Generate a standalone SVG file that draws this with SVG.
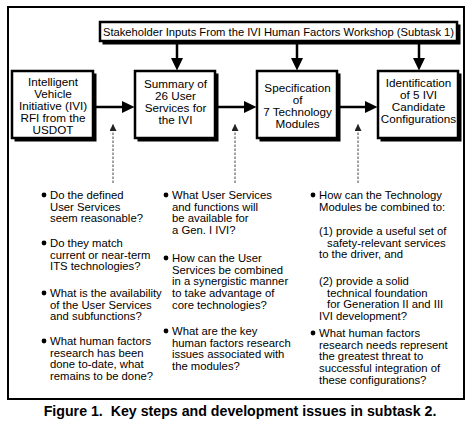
<svg xmlns="http://www.w3.org/2000/svg" width="470" height="425" viewBox="0 0 470 425">
<style>
text{font-family:"Liberation Sans",Arial,sans-serif;fill:#000}
.bx{font-size:11.7px;text-anchor:middle}
.q{font-size:11.3px}
.st{font-size:11.2px;text-anchor:middle}
.cap{font-size:14.2px;font-weight:bold;text-anchor:middle}
.box{fill:#fff;stroke:#000;stroke-width:2.5}
.sh{fill:#000}
.ln{stroke:#000;stroke-width:2.5;fill:none}
.dash{stroke:#444;stroke-width:1;stroke-dasharray:2.5 1.5;fill:none}
</style>
<defs>
<marker id="ahs" markerWidth="8" markerHeight="8" refX="7" refY="3.5" orient="auto" markerUnits="userSpaceOnUse"><path d="M0,0 L7,3.5 L0,7 Z" fill="#222"/></marker>
</defs>
<rect x="8" y="7" width="456" height="392" fill="#fff" stroke="#000" stroke-width="2"/>

<g id="stakeholder">
<rect class="sh" x="102.5" y="24.5" width="358" height="20"/>
<rect class="box" x="100" y="22" width="357" height="19"/>
<text class="st" x="278.5" y="35.5">Stakeholder Inputs From the IVI Human Factors Workshop (Subtask 1)</text>
</g>

<g id="rfi">
<rect class="sh" x="14.5" y="73.5" width="82" height="68"/>
<rect class="box" x="12" y="71" width="81" height="67"/>
<text class="bx" x="53" y="86">Intelligent</text>
<text class="bx" x="53" y="98">Vehicle</text>
<text class="bx" x="53" y="110">Initiative (IVI)</text>
<text class="bx" x="53" y="122">RFI from the</text>
<text class="bx" x="53" y="134">USDOT</text>
</g>

<g id="summary">
<rect class="sh" x="137.5" y="73.5" width="81" height="68"/>
<rect class="box" x="135" y="71" width="80" height="67"/>
<text class="bx" x="175.5" y="88">Summary of</text>
<text class="bx" x="175.5" y="100">26 User</text>
<text class="bx" x="175.5" y="112">Services for</text>
<text class="bx" x="175.5" y="124">the IVI</text>
</g>

<g id="specification">
<rect class="sh" x="259.5" y="73.5" width="81" height="68"/>
<rect class="box" x="257" y="71" width="80" height="67"/>
<text class="bx" x="297.5" y="92">Specification</text>
<text class="bx" x="297.5" y="104">of</text>
<text class="bx" x="297.5" y="116">7 Technology</text>
<text class="bx" x="297.5" y="128">Modules</text>
</g>

<g id="identification">
<rect class="sh" x="380.5" y="73.5" width="81" height="68"/>
<rect class="box" x="378" y="71" width="80" height="67"/>
<text class="bx" x="418.5" y="87">Identification</text>
<text class="bx" x="418.5" y="99">of 5 IVI</text>
<text class="bx" x="418.5" y="111">Candidate</text>
<text class="bx" x="418.5" y="123">Configurations</text>
</g>

<g id="connectors">
<line class="ln" x1="177" y1="43" x2="177" y2="60" />
<path d="M171,58 L183,58 L177,70.5 Z"/>
<line class="ln" x1="297" y1="43" x2="297" y2="60" />
<path d="M291,58 L303,58 L297,70.5 Z"/>
<line class="ln" x1="419" y1="43" x2="419" y2="60" />
<path d="M413,58 L425,58 L419,70.5 Z"/>
<line class="ln" x1="96" y1="107" x2="124" y2="107" />
<path d="M122,101 L122,113 L134.5,107 Z"/>
<line class="ln" x1="218" y1="107" x2="246" y2="107" />
<path d="M244,101 L244,113 L256.5,107 Z"/>
<line class="ln" x1="340" y1="107" x2="367" y2="107" />
<path d="M365,101 L365,113 L377.5,107 Z"/>
<line class="dash" x1="113" y1="183" x2="113" y2="124" marker-end="url(#ahs)"/>
<line class="dash" x1="235" y1="183" x2="235" y2="124" marker-end="url(#ahs)"/>
<line class="dash" x1="358" y1="183" x2="358" y2="124" marker-end="url(#ahs)"/>
</g>

<g id="issues-rfi">
<circle cx="44" cy="195" r="2.4"/>
<text class="q" x="50" y="199">Do the defined</text>
<text class="q" x="50" y="210.7">User Services</text>
<text class="q" x="50" y="222.4">seem reasonable?</text>
<circle cx="44" cy="243" r="2.4"/>
<text class="q" x="50" y="247">Do they match</text>
<text class="q" x="50" y="258.7">current or near-term</text>
<text class="q" x="50" y="270.4">ITS technologies?</text>
<circle cx="44" cy="293" r="2.4"/>
<text class="q" x="50" y="297">What is the availability</text>
<text class="q" x="50" y="308.7">of the User Services</text>
<text class="q" x="50" y="320.4">and subfunctions?</text>
<circle cx="44" cy="341" r="2.4"/>
<text class="q" x="50" y="345">What human factors</text>
<text class="q" x="50" y="356.7">research has been</text>
<text class="q" x="50" y="368.4">done to-date, what</text>
<text class="q" x="50" y="380.1">remains to be done?</text>
</g>

<g id="issues-summary">
<circle cx="166" cy="195" r="2.4"/>
<text class="q" x="172" y="199">What User Services</text>
<text class="q" x="172" y="210.7">and functions will</text>
<text class="q" x="172" y="222.4">be available for</text>
<text class="q" x="172" y="234.1">a Gen. I IVI?</text>
<circle cx="166" cy="258" r="2.4"/>
<text class="q" x="172" y="262">How can the User</text>
<text class="q" x="172" y="273.7">Services be combined</text>
<text class="q" x="172" y="285.4">in a synergistic manner</text>
<text class="q" x="172" y="297.1">to take advantage of</text>
<text class="q" x="172" y="308.8">core technologies?</text>
<circle cx="166" cy="331" r="2.4"/>
<text class="q" x="172" y="335">What are the key</text>
<text class="q" x="172" y="346.7">human factors research</text>
<text class="q" x="172" y="358.4">issues associated with</text>
<text class="q" x="172" y="370.1">the modules?</text>
</g>

<g id="issues-specification">
<circle cx="313" cy="195" r="2.4"/>
<text class="q" x="319" y="199">How can the Technology</text>
<text class="q" x="319" y="210.7">Modules be combined to:</text>
<text class="q" x="319" y="235">(1) provide a useful set of</text>
<text class="q" x="327" y="246.7">safety-relevant services</text>
<text class="q" x="319" y="258.4">to the driver, and</text>
<text class="q" x="319" y="285">(2) provide a solid</text>
<text class="q" x="327" y="296.7">technical foundation</text>
<text class="q" x="327" y="308.4">for Generation II and III</text>
<text class="q" x="319" y="320.1">IVI development?</text>
<circle cx="313" cy="333" r="2.4"/>
<text class="q" x="319" y="337">What human factors</text>
<text class="q" x="319" y="348.7">research needs represent</text>
<text class="q" x="319" y="360.4">the greatest threat to</text>
<text class="q" x="319" y="372.1">successful integration of</text>
<text class="q" x="319" y="383.8">these configurations?</text>
</g>

<text class="cap" x="240" y="416" xml:space="preserve">Figure 1.  Key steps and development issues in subtask 2.</text>
</svg>
